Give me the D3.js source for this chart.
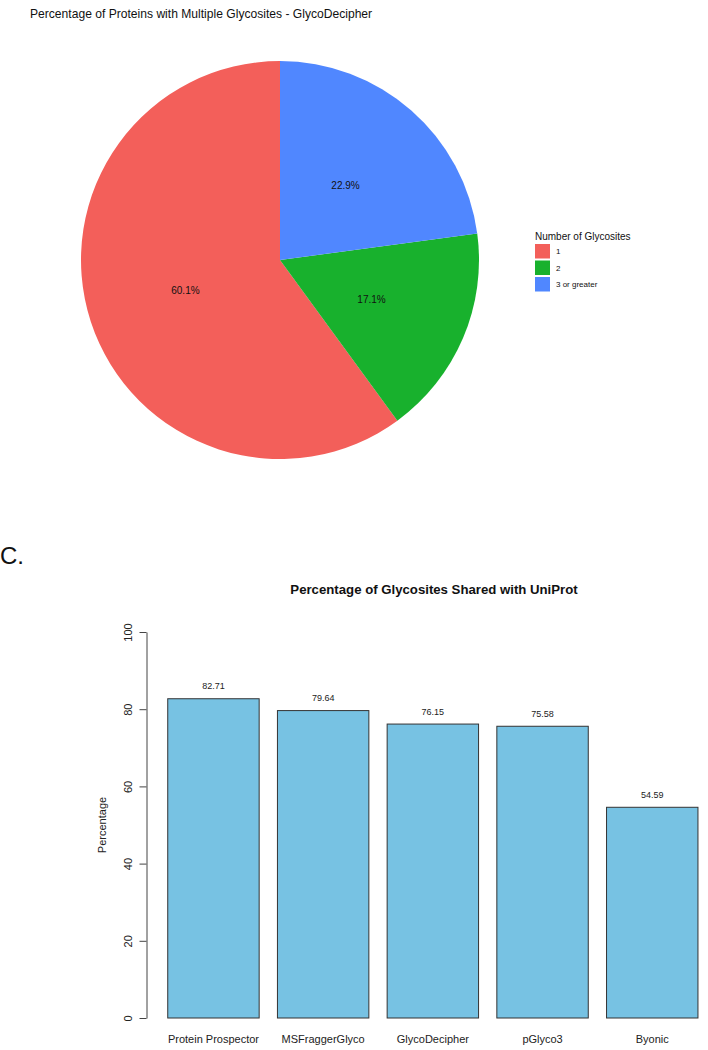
<!DOCTYPE html>
<html>
<head>
<meta charset="utf-8">
<script src="https://cdn.jsdelivr.net/npm/d3@7"></script>
<style>
  body { margin: 0; background: #fff; }
  svg { display: block; font-family: "Liberation Sans", Arial, sans-serif; }
</style>
</head>
<body>
<svg id="svg" width="708" height="1050"></svg>
<script>
// pie data
const siteCounts = ["1", "2", "3 or greater"];
const sitePercents = [60.1, 17.1, 22.9];
const siteColors = ["#F35F5A", "#18B12D", "#5087FF"];

// bar data
const tools = ["Protein Prospector", "MSFraggerGlyco", "GlycoDecipher", "pGlyco3", "Byonic"];
const sharedPct = [82.71, 79.64, 76.15, 75.58, 54.59];
const yTicks = [0, 20, 40, 60, 80, 100];

const svg = d3.select("#svg");

// ---- panel: pie ----
svg.append("text")
  .attr("x", 30).attr("y", 17.5)
  .attr("font-size", "12.1px")
  .attr("fill", "#111")
  .text("Percentage of Proteins with Multiple Glycosites - GlycoDecipher");

const pieCx = 280, pieCy = 260, pieR = 199;
const color = d3.scaleOrdinal().domain(siteCounts).range(siteColors);

// ggplot stacks the last level first, going clockwise from 12 o'clock
const pieData = siteCounts.map((c, i) => ({ cat: c, value: sitePercents[i], idx: i }));
const pie = d3.pie()
  .value(d => d.value)
  .sort((a, b) => b.idx - a.idx);
const arc = d3.arc().innerRadius(0).outerRadius(pieR);

const pg = svg.append("g").attr("transform", `translate(${pieCx},${pieCy})`);
const slices = pie(pieData);
pg.selectAll("path")
  .data(slices)
  .join("path")
    .attr("d", arc)
    .attr("fill", d => color(d.data.cat));

pg.selectAll("text")
  .data(slices)
  .join("text")
    .attr("transform", d => `translate(${arc.centroid(d)})`)
    .attr("text-anchor", "middle")
    .attr("dominant-baseline", "central")
    .attr("font-size", "10px")
    .attr("fill", "#111")
    .text(d => d.data.value.toFixed(1) + "%");

// legend
const lg = svg.append("g").attr("transform", "translate(535,0)");
lg.append("text")
  .attr("x", 0).attr("y", 239.5)
  .attr("font-size", "10px")
  .attr("fill", "#111")
  .text("Number of Glycosites");
const items = lg.selectAll("g.item")
  .data(siteCounts)
  .join("g")
    .attr("class", "item")
    .attr("transform", (d, i) => `translate(0,${244 + i * 16.5})`);
items.append("rect")
  .attr("width", 15).attr("height", 14.5)
  .attr("fill", d => color(d));
items.append("text")
  .attr("x", 21).attr("y", 7.5)
  .attr("dominant-baseline", "central")
  .attr("font-size", "8px")
  .attr("fill", "#111")
  .text(d => d);

// ---- panel C: bars ----
svg.append("text")
  .attr("x", 0).attr("y", 564)
  .attr("font-size", "24px")
  .attr("fill", "#111")
  .text("C.");

const x = d3.scaleBand()
  .domain(tools)
  .range([158.6, 707.1])
  .paddingInner(1 / 6)
  .paddingOuter(1 / 12);

const y = d3.scaleLinear()
  .domain([0, 100])
  .range([1018, 632]);

svg.append("text")
  .attr("x", 434).attr("y", 594)
  .attr("text-anchor", "middle")
  .attr("font-size", "13.2px")
  .attr("font-weight", "bold")
  .attr("fill", "#111")
  .text("Percentage of Glycosites Shared with UniProt");

svg.append("g")
  .selectAll("rect")
  .data(sharedPct)
  .join("rect")
    .attr("x", (d, i) => x(tools[i]))
    .attr("y", d => y(d))
    .attr("width", x.bandwidth())
    .attr("height", d => y(0) - y(d))
    .attr("fill", "#77C2E3")
    .attr("stroke", "#333")
    .attr("stroke-width", 1);

svg.append("g")
  .selectAll("text")
  .data(sharedPct)
  .join("text")
    .attr("x", (d, i) => x(tools[i]) + x.bandwidth() / 2)
    .attr("y", d => y(d) - 12.5)
    .attr("text-anchor", "middle")
    .attr("dominant-baseline", "central")
    .attr("font-size", "9px")
    .attr("fill", "#222")
    .text(d => d.toFixed(2));

const yAxis = (g) => {
  g.attr("transform", "translate(146.5,0)")
    .call(d3.axisLeft(y).tickValues(yTicks).tickSize(7).tickSizeOuter(0))
    .call(g => g.selectAll("path, line").attr("stroke", "#444"))
    .call(g => g.selectAll("text")
      .attr("x", null).attr("dy", null)
      .attr("transform", "translate(-18.5,0) rotate(-90)")
      .attr("text-anchor", "middle")
      .attr("dominant-baseline", "central")
      .attr("font-size", "11px")
      .attr("fill", "#222"));
  g.attr("font-family", null);
};

const xAxis = (g) => {
  g.attr("transform", "translate(0,1018)")
    .call(d3.axisBottom(x).tickSize(0))
    .call(g => g.select(".domain").remove())
    .call(g => g.selectAll("text")
      .attr("y", 21).attr("dy", null)
      .attr("dominant-baseline", "central")
      .attr("font-size", "11px")
      .attr("fill", "#222"));
  g.attr("font-family", null);
};

svg.append("g").call(yAxis);
svg.append("g").call(xAxis);

svg.append("text")
  .attr("transform", "translate(102,825) rotate(-90)")
  .attr("text-anchor", "middle")
  .attr("dominant-baseline", "central")
  .attr("font-size", "11px")
  .attr("fill", "#222")
  .text("Percentage");
</script>
</body>
</html>
